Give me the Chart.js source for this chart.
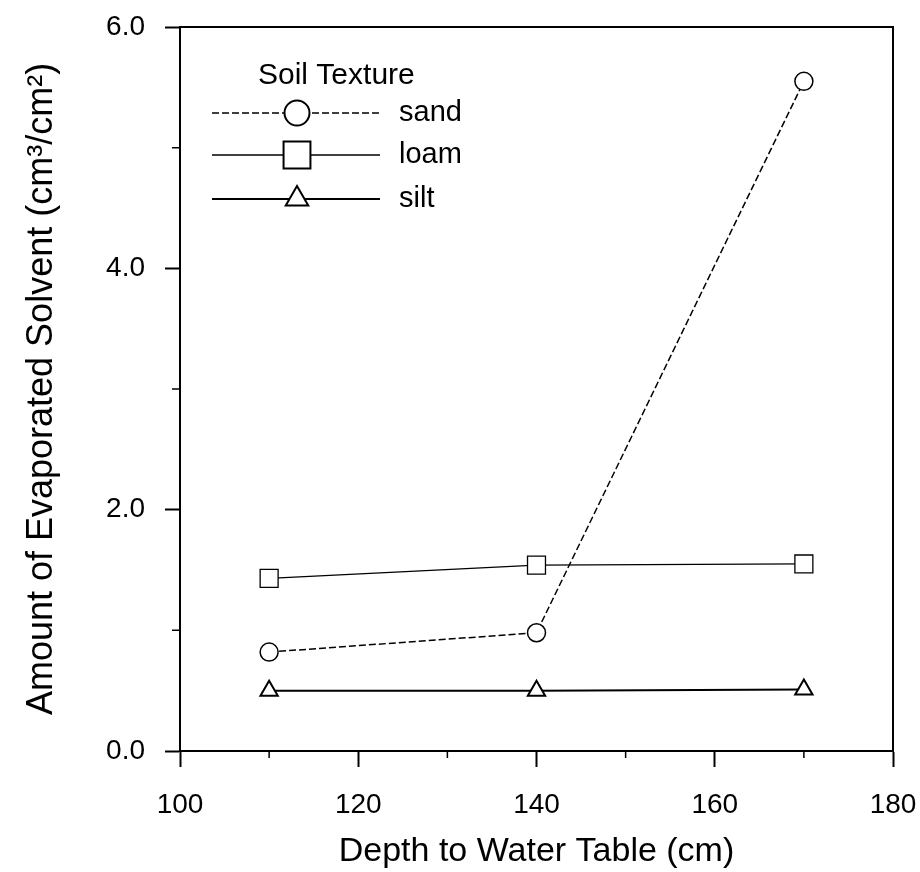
<!DOCTYPE html>
<html>
<head>
<meta charset="utf-8">
<script src="https://cdn.jsdelivr.net/npm/chart.js@4.4.1/dist/chart.umd.min.js"></script>
<style>
    body { margin: 0; background: #fff; }
    #wrap { width: 920px; height: 872px; }
</style>
</head>
<body>
<div id="wrap"><canvas id="soil-chart"></canvas></div>
<script>
// depth to water table (cm) and evaporated solvent (cm3/cm2)
const depths = [110, 140, 170];
const sand = [0.82, 0.98, 5.55];
const loam = [1.43, 1.54, 1.55];
const silt = [0.50, 0.50, 0.51];
const seriesNames = ['sand', 'loam', 'silt'];
const xMinor = [110, 130, 150, 170];
const yMinor = [1, 3, 5];

const FONT = '"Liberation Sans", Arial, sans-serif';

function toPoints(vals) {
    return depths.map((d, i) => ({x: d, y: vals[i]}));
}

// box round the plot + the small in-between ticks
const framePlugin = {
    id: 'frame',
    beforeDatasetsDraw(chart) {
        const {ctx, chartArea: a, scales} = chart;
        ctx.save();
        ctx.strokeStyle = '#000';
        ctx.lineWidth = 2;
        ctx.strokeRect(a.left, a.top, a.right - a.left, a.bottom - a.top);
        ctx.lineWidth = 1.5;
        ctx.beginPath();
        xMinor.forEach(v => {
            const px = scales.x.getPixelForValue(v);
            ctx.moveTo(px, a.bottom);
            ctx.lineTo(px, a.bottom + 7);
        });
        yMinor.forEach(v => {
            const py = scales.y.getPixelForValue(v);
            ctx.moveTo(a.left, py);
            ctx.lineTo(a.left - 8, py);
        });
        ctx.stroke();
        ctx.restore();
    }
};

// legend sits inside the plot, top left
const legendPlugin = {
    id: 'soilLegend',
    afterDatasetsDraw(chart) {
        const {ctx, chartArea: a} = chart;
        const rows = [113, 155, 199];
        const sizes = [12.5, 19, 13];
        ctx.save();
        ctx.fillStyle = '#000';
        ctx.font = '30px ' + FONT;
        ctx.textBaseline = 'middle';
        ctx.fillText('Soil Texture', a.left + 78, 76);
        ctx.font = '29px ' + FONT;
        chart.data.datasets.forEach((ds, i) => {
            const yy = rows[i];
            ctx.strokeStyle = '#000';
            ctx.lineWidth = ds.borderWidth;
            ctx.setLineDash(ds.borderDash || []);
            ctx.beginPath();
            ctx.moveTo(a.left + 32, yy);
            ctx.lineTo(a.left + 200, yy);
            ctx.stroke();
            ctx.setLineDash([]);
            ctx.fillStyle = '#fff';
            ctx.lineWidth = 2;
            Chart.helpers.drawPoint(ctx, {pointStyle: ds.pointStyle, radius: sizes[i], rotation: 0, borderWidth: 2}, a.left + 117, yy);
            ctx.fillStyle = '#000';
            ctx.fillText(ds.label, a.left + 219, yy);
        });
        ctx.restore();
    }
};

const soil_chart = new Chart(document.getElementById('soil-chart'), {
    type: 'line',
    data: {
        datasets: [{
            label: seriesNames[0],
            data: toPoints(sand),
            borderColor: '#000',
            borderWidth: 1.5,
            borderDash: [7, 3],
            pointStyle: 'circle',
            pointRadius: 9,
        }, {
            label: seriesNames[1],
            data: toPoints(loam),
            borderColor: '#000',
            borderWidth: 1.3,
            pointStyle: 'rect',
            pointRadius: 12.7,
        }, {
            label: seriesNames[2],
            data: toPoints(silt),
            borderColor: '#000',
            borderWidth: 2,
            pointStyle: 'triangle',
            pointRadius: 10,
        }]
    },
    options: {
        responsive: true,
        maintainAspectRatio: false,
        animation: false,
        events: [],
        layout: {
            padding: {top: 27, right: 27, left: 0, bottom: 0}
        },
        elements: {
            line: {tension: 0},
            point: {
                backgroundColor: '#fff',
                borderColor: '#000',
                borderWidth: 2,
            }
        },
        scales: {
            x: {
                type: 'linear',
                min: 100,
                max: 180,
                afterFit(scale) {
                    scale.height = 121;
                    scale.paddingLeft = 0;
                    scale.paddingRight = 0;
                },
                ticks: {
                    stepSize: 20,
                    color: '#000',
                    padding: 21,
                    maxRotation: 0,
                    font: {family: FONT, size: 28},
                },
                grid: {
                    drawOnChartArea: false,
                    tickLength: 16,
                    tickWidth: 2,
                    color: '#000',
                },
                border: {display: true, color: '#000', width: 2},
                title: {
                    display: true,
                    text: 'Depth to Water Table (cm)',
                    color: '#000',
                    padding: {top: 0, bottom: 0},
                    font: {family: FONT, size: 34},
                },
            },
            y: {
                min: 0,
                max: 6,
                afterFit(scale) {
                    scale.width = 180;
                    scale.paddingTop = 0;
                    scale.paddingBottom = 0;
                },
                ticks: {
                    stepSize: 2,
                    color: '#000',
                    padding: 20,
                    font: {family: FONT, size: 28},
                    callback: v => v.toFixed(1),
                },
                grid: {
                    drawOnChartArea: false,
                    tickLength: 15,
                    tickWidth: 2,
                    color: '#000',
                },
                border: {display: true, color: '#000', width: 2},
                title: {
                    display: true,
                    text: 'Amount of Evaporated Solvent (cm³/cm²)',
                    color: '#000',
                    padding: {top: 20, bottom: 0},
                    font: {family: FONT, size: 36},
                },
            },
        },
        plugins: {
            legend: {display: false},
            tooltip: {enabled: false},
        },
    },
    plugins: [framePlugin, legendPlugin],
});
</script>
</body>
</html>
